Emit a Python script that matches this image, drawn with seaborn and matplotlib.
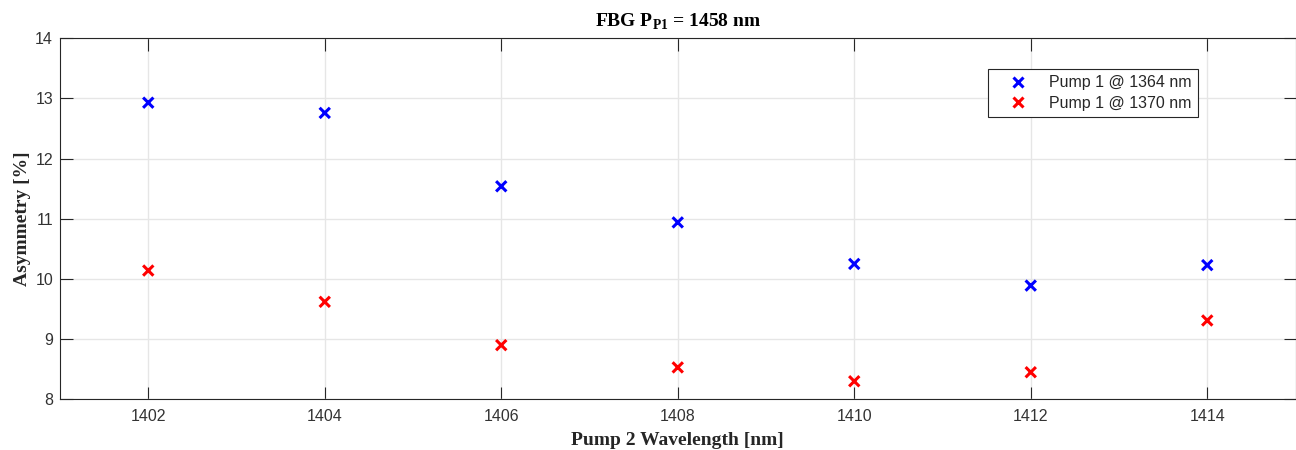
import matplotlib
matplotlib.use("Agg")
import matplotlib.pyplot as plt
import seaborn as sns
import pandas as pd

# Pump 2 wavelength sweep [nm]
pump2_wavelength = [1402, 1404, 1406, 1408, 1410, 1412, 1414]
# Asymmetry [%] for each Pump 1 setting
asym_1364 = [12.93, 12.76, 11.54, 10.94, 10.25, 9.89, 10.23]
asym_1370 = [10.14, 9.62, 8.90, 8.53, 8.30, 8.45, 9.31]
series_labels = ["Pump 1 @ 1364 nm", "Pump 1 @ 1370 nm"]
series_colors = ["#0000ff", "#ff0000"]
x_ticks = [1402, 1404, 1406, 1408, 1410, 1412, 1414]
y_ticks = [8, 9, 10, 11, 12, 13, 14]

df = pd.concat([
    pd.DataFrame({"wl": pump2_wavelength, "asym": asym_1364, "series": series_labels[0]}),
    pd.DataFrame({"wl": pump2_wavelength, "asym": asym_1370, "series": series_labels[1]}),
])

sns.set_theme(style="whitegrid")
plt.rcParams["font.family"] = ["Liberation Sans", "DejaVu Sans"]
plt.rcParams["mathtext.fontset"] = "custom"
plt.rcParams["mathtext.rm"] = "Liberation Serif:bold"
plt.rcParams["mathtext.bf"] = "Liberation Serif:bold"

fig = plt.figure(figsize=(12.96, 4.5), dpi=100)
ax = fig.add_axes([60 / 1296, 1 - 399.3 / 450, 1235.5 / 1296, 361 / 450])

sns.scatterplot(data=df, x="wl", y="asym", hue="series", hue_order=series_labels,
                palette=series_colors, marker="x", s=55, linewidth=2.2, ax=ax,
                legend=False, zorder=3)

ax.set_xlim(1401, 1415)
ax.set_ylim(8, 14)
ax.set_xticks(x_ticks)
ax.set_yticks(y_ticks)
ax.grid(True, color="#e6e6e6", linewidth=1.0)
ax.set_facecolor("white")
for side in ["left", "right", "top", "bottom"]:
    ax.spines[side].set_visible(True)
    ax.spines[side].set_color("#262626")
    ax.spines[side].set_linewidth(0.8)
ax.tick_params(axis="both", which="both", direction="in", length=9, width=0.8,
               color="#262626", labelcolor="#333333", labelsize=11.5,
               top=True, right=True, bottom=True, left=True)
ax.tick_params(axis="x", pad=7)
ax.tick_params(axis="y", pad=5)

serif = {"family": ["Liberation Serif", "DejaVu Serif"], "weight": "bold"}
ax.set_xlabel("Pump 2 Wavelength [nm]", fontdict=serif, fontsize=14, color="#262626", labelpad=6)
ax.set_ylabel("Asymmetry [%]", fontdict=serif, fontsize=14, color="#262626", labelpad=3)
ax.set_title(r"FBG P$_{\mathrm{P1}}$ = 1458 nm", fontdict=serif, fontsize=14, color="black", pad=8)

handles = [plt.Line2D([], [], linestyle="none", marker="x", color=c, markersize=7,
                      markeredgewidth=2.2) for c in series_colors]
leg = ax.legend(handles, series_labels, loc="upper right", bbox_to_anchor=(0.921, 0.915),
                borderaxespad=0, fontsize=11.5, frameon=True, fancybox=False,
                edgecolor="#262626", framealpha=1, borderpad=0.4, handlelength=2.9,
                handletextpad=0.5, labelspacing=0.35)
leg.get_frame().set_linewidth(0.8)

fig.savefig("out.png", dpi=100)
